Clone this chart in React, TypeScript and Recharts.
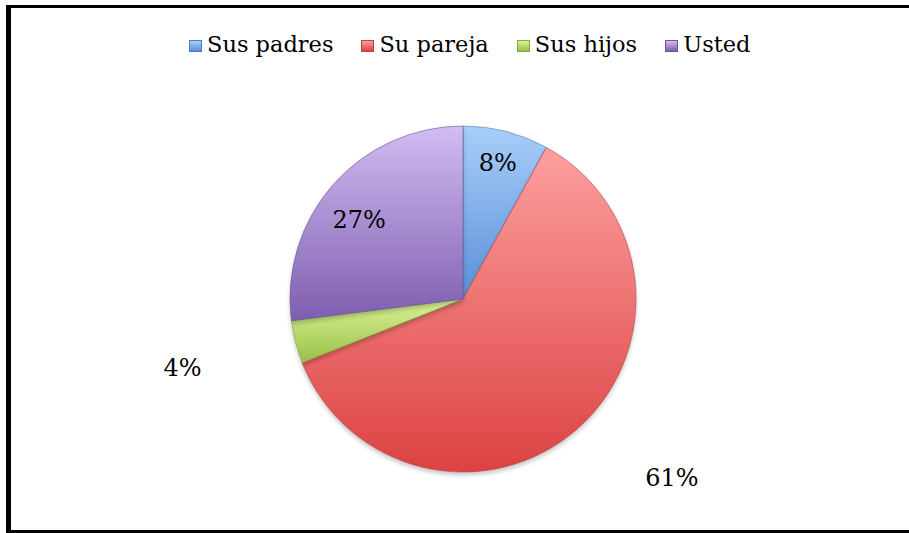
import { PieChart, Pie, Cell } from 'recharts';

const CATEGORIES = ['Sus padres', 'Su pareja', 'Sus hijos', 'Usted'];
const VALUES = [8, 61, 4, 27];

// gradient stops per slice: [light top, dark bottom, legend/stroke]
const GRADIENTS = [
  ['#a8cffa', '#5b8fd8', '#4a7ebb'],
  ['#fd9f9f', '#dc4242', '#b84545'],
  ['#dcf495', '#98bf48', '#84a844'],
  ['#d2bdf2', '#7e5daf', '#6e5493'],
];

// label placement: radius factor + angle shift (deg), Excel-style manual positions
const LABEL_POS = [
  { k: 0.81, shift: 0 },
  { k: 1.59, shift: 8 },
  { k: 1.67, shift: -0.6 },
  { k: 0.755, shift: 4 },
];

const FONT = "'DejaVu Serif', 'Liberation Serif', serif";
const RAD = Math.PI / 180;

const data = CATEGORIES.map((name, i) => ({ name, value: VALUES[i] }));

function renderLabel(props: any) {
  const { cx, cy, midAngle, outerRadius, index, value } = props;
  const pos = LABEL_POS[index];
  const a = (midAngle + pos.shift) * RAD;
  const r = outerRadius * pos.k;
  const x = cx + r * Math.cos(-a);
  const y = cy + r * Math.sin(-a);
  return (
    <text
      x={x}
      y={y}
      textAnchor="middle"
      dominantBaseline="central"
      fill="#000"
      style={{ fontFamily: FONT, fontSize: 24 }}
    >
      {`${value}%`}
    </text>
  );
}

function ChartLegend() {
  return (
    <div
      style={{
        position: 'absolute',
        left: 189,
        top: 29,
        display: 'flex',
        alignItems: 'baseline',
        fontFamily: FONT,
        fontSize: 22.5,
        lineHeight: '30px',
        whiteSpace: 'nowrap',
      }}
    >
      {CATEGORIES.map((c, i) => (
        <div key={c} style={{ display: 'flex', alignItems: 'baseline', marginRight: 28 }}>
          <span
            style={{
              display: 'inline-block',
              width: 13,
              height: 12,
              marginRight: 5,
              boxSizing: 'border-box',
              border: `1px solid ${GRADIENTS[i][2]}`,
              background: `linear-gradient(180deg, ${GRADIENTS[i][0]}, ${GRADIENTS[i][1]})`,
            }}
          />
          <span style={{ color: '#000' }}>{c}</span>
        </div>
      ))}
    </div>
  );
}

export default function App() {
  return (
    <div style={{ position: 'fixed', left: 0, top: 0, width: 909, height: 533, overflow: 'hidden', background: '#fff' }}>
      <style>{'.recharts-pie-sector { filter: drop-shadow(0px 3px 2px rgba(0,0,0,0.22)); }'}</style>
      <div
        style={{
          position: 'absolute',
          left: 6,
          top: 5,
          width: 1400,
          height: 528,
          boxSizing: 'border-box',
          borderTop: '3px solid #000',
          borderLeft: '5px solid #000',
          borderBottom: '3px solid #000',
        }}
      />
      <div style={{ position: 'absolute', left: 0, top: 0 }}>
        <PieChart width={909} height={533} margin={{ top: 0, right: 0, bottom: 0, left: 0 }}>
          <defs>
            {GRADIENTS.map((g, i) => (
              <linearGradient key={i} id={`slice${i}`} x1="0" y1="0" x2="0" y2="1">
                <stop offset="0%" stopColor={g[0]} />
                <stop offset="100%" stopColor={g[1]} />
              </linearGradient>
            ))}
          </defs>
          <Pie
            data={data}
            dataKey="value"
            nameKey="name"
            cx={463}
            cy={299}
            outerRadius={173}
            startAngle={90}
            endAngle={-270}
            label={renderLabel}
            labelLine={false}
            isAnimationActive={false}
          >
            {data.map((_, i) => (
              <Cell key={i} fill={`url(#slice${i})`} stroke={GRADIENTS[i][2]} strokeOpacity={0.6} strokeWidth={1} />
            ))}
          </Pie>
        </PieChart>
      </div>
      <ChartLegend />
    </div>
  );
}
